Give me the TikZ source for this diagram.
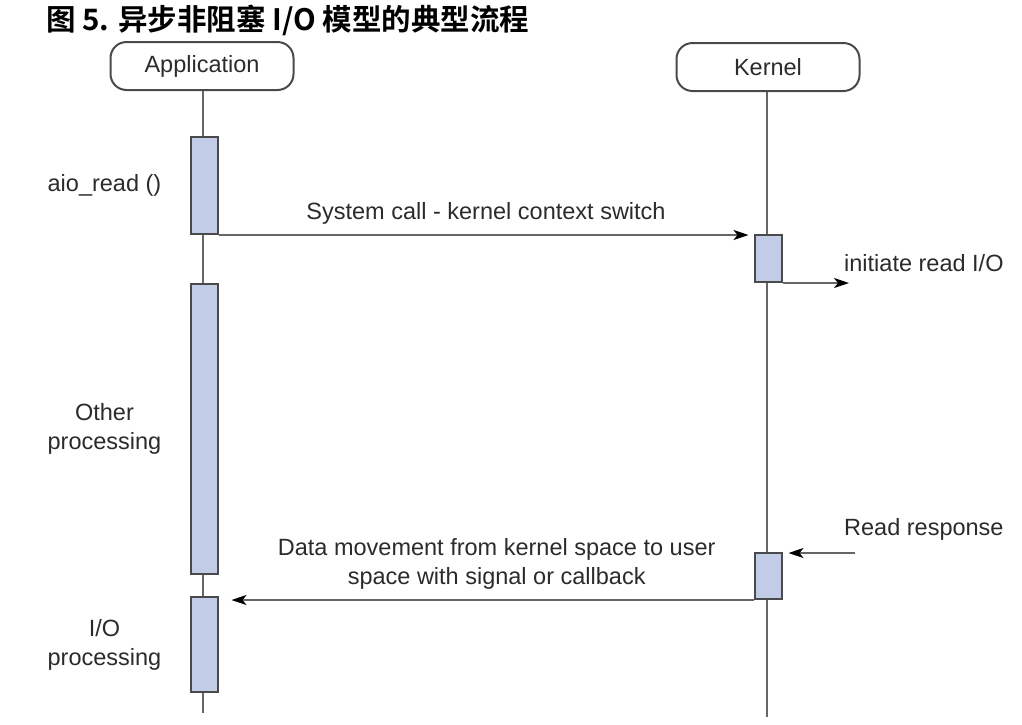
\documentclass[tikz,border=0pt]{standalone}
\usepackage{fontspec}
\setmainfont{Liberation Sans}
\newfontfamily\cjk{Noto Sans CJK SC}[BoldFont={Noto Sans CJK SC Bold}]
\usetikzlibrary{positioning,arrows.meta}
\definecolor{lifegray}{HTML}{666666}
\definecolor{barblue}{HTML}{C2CCE6}
\definecolor{bargray}{HTML}{4A4A4A}
\definecolor{textgray}{HTML}{2B2B2B}

\begin{document}
\begin{tikzpicture}[x=1pt, y=-1pt, font=\fontsize{23.5}{29}\selectfont, text=textgray]
    \tikzset{
        head/.style={draw=bargray, line width=2pt, rounded corners=16pt, minimum width=183pt, minimum height=48pt},
        bar/.style={draw=bargray, fill=barblue, line width=2pt, minimum width=27pt, inner sep=0pt},
        life/.style={lifegray, line width=2.5pt},
        msg/.style={lifegray, line width=2pt, -{Stealth[length=15pt, width=10pt, inset=4pt, color=black]}},
        lbl/.style={inner sep=2pt, align=center, text=textgray}
    }
    \useasboundingbox (0,0) rectangle (1022,724);
    \node [anchor=west, inner sep=0pt, text=black, font=\cjk\bfseries\fontsize{29.5}{32}\selectfont] (title) at (46,20) {图 5. 异步非阻塞 I/O 模型的典型流程};
    % heads and lifelines
    \node [head] (app) at (202,66) {Application};
    \node [head] (kernel) at (768,67) {Kernel};
    \coordinate (append) at (203,713);
    \coordinate (kernend) at (767,717);
    \draw [life] (app.south -| append) -- (append);
    \draw [life] (kernel.south -| kernend) -- (kernend);
    % activations
    \node [bar, minimum height=97pt] (a1) at (204,185.5) {};
    \node [bar, minimum height=290pt] (a2) at (204,429) {};
    \node [bar, minimum height=95pt] (a3) at (204,644.5) {};
    \node [bar, minimum height=47pt] (k1) at (768,258.5) {};
    \node [bar, minimum height=46pt] (k2) at (768,576) {};
    % side labels
    \node [lbl, left=26pt of a1] (aio) {aio\_read ()};
    \node [lbl, left=26pt of a2] (other) {Other\\processing};
    \node [lbl, left=26pt of a3] (iop) {I/O\\processing};
    \node [lbl, anchor=west] (initlbl) at (842,263) {initiate read I/O};
    \node [lbl, anchor=west] (rrlbl) at (842,529) {Read response};
    \coordinate (rdout) at (849,283);
    \coordinate (rdin) at (855,553);
    % messages
    \draw [msg, shorten >=5pt] (a1.south east) -- (a1.south east -| k1.west)
        node [lbl, midway, above=8pt] {System call - kernel context switch};
    \draw [msg] (k1.south east) -- (rdout);
    \draw [msg, shorten >=6pt] (rdin) -- (rdin -| k2.east);
    \draw [msg, shorten >=13pt] (k2.south west) -- (k2.south west -| a3.east)
        node [lbl, pos=0.48, above=8pt] {Data movement from kernel space to user\\space with signal or callback};
\end{tikzpicture}
\end{document}
